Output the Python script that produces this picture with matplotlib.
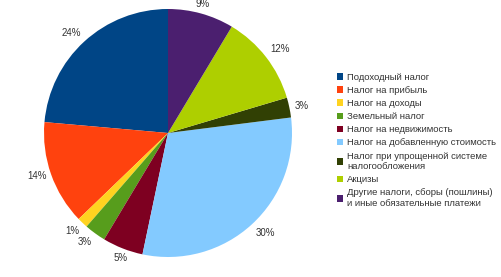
import numpy as np
import matplotlib.pyplot as plt

plt.rcParams['font.family'] = ['Liberation Sans', 'DejaVu Sans']

# Доли налоговых поступлений (%)
labels = [
    "Подоходный налог",
    "Налог на прибыль",
    "Налог на доходы",
    "Земельный налог",
    "Налог на недвижимость",
    "Налог на добавленную стоимость",
    "Налог при упрощенной системе\nналогообложения",
    "Акцизы",
    "Другие налоги, сборы (пошлины)\nи иные обязательные платежи",
]
values = [23.6, 13.6, 1.4, 2.8, 5.3, 30.3, 2.6, 11.8, 8.6]
colors = ["#004586", "#ff420e", "#ffd320", "#579d1c", "#7e0021",
          "#83caff", "#314004", "#aecf00", "#4b1f6f"]

fig = plt.figure(figsize=(5.02, 2.77), dpi=100)
ax = fig.add_axes([(168 - 124) / 502, (277 - 133 - 124) / 277, 248 / 502, 248 / 277])

wedges, texts, autotexts = ax.pie(
    values, colors=colors, startangle=90, counterclock=True,
    autopct="%1.0f%%", textprops={"fontsize": 7, "color": "#333333"},
)

# подписи снаружи, прижаты к краю круга
for w, t in zip(wedges, autotexts):
    ang = np.deg2rad((w.theta1 + w.theta2) / 2)
    c, s = np.cos(ang), np.sin(ang)
    t.set_position((1.04 * c, 1.04 * s))
    t.set_ha("left" if c > 0.4 else ("right" if c < -0.4 else "center"))
    t.set_va("bottom" if s > 0.4 else ("top" if s < -0.4 else "center"))
    t.set_clip_on(False)

ax.set_xlim(-1, 1)
ax.set_ylim(-1, 1)
ax.set_aspect("equal")

fig.legend(wedges, labels, loc="upper left", bbox_to_anchor=(332 / 502, 1 - 68 / 277),
           frameon=False, fontsize=6.8, handlelength=0.7, handleheight=0.7,
           handletextpad=0.4, labelspacing=0.44, borderpad=0, labelcolor="#333333")

fig.savefig("out.png", dpi=100)
